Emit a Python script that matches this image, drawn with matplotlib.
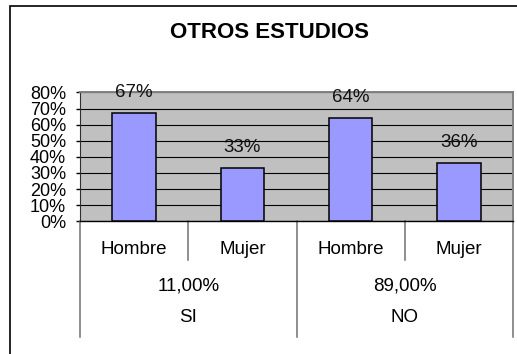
import matplotlib

matplotlib.use("Agg")
import matplotlib.pyplot as plt
from matplotlib.patches import Rectangle
from matplotlib.ticker import FuncFormatter

plt.rcParams["font.family"] = ["Liberation Sans", "DejaVu Sans"]

# Datos: porcentaje por sexo dentro de cada respuesta
sexo = ["Hombre", "Mujer", "Hombre", "Mujer"]
valores = [67, 33, 64, 36]
respuestas = ["SI", "NO"]
totales = ["11,00%", "89,00%"]
yticks = [0, 10, 20, 30, 40, 50, 60, 70, 80]

W, H = 517, 354
fig = plt.figure(figsize=(W / 100, H / 100), dpi=100)

# Marco del grafico (solo bordes izquierdo y superior visibles)
fig.patches.append(Rectangle((10 / W, -0.1), 1.2, 1 - 6 / H + 0.1,
                             transform=fig.transFigure, fill=False,
                             edgecolor="black", linewidth=1.2))

ax_l, ax_r, ax_t, ax_b = 80, 513, 92.5, 221.3
ax = fig.add_axes([ax_l / W, 1 - ax_b / H, (ax_r - ax_l) / W, (ax_b - ax_t) / H])
ax.set_facecolor("#C0C0C0")

x = list(range(len(valores)))
ax.bar(x, valores, width=0.4, color="#9999FF", edgecolor="black",
       linewidth=1.1, zorder=3)

for xi, v in zip(x, valores):
    ax.annotate(f"{v}%", (xi, v), xytext=(0, 15), textcoords="offset points",
                ha="center", va="center", fontsize=13.5, color="#111111")

ax.set_xlim(-0.5, len(valores) - 0.5)
ax.set_ylim(0, 80)
ax.set_yticks(yticks)
ax.yaxis.set_major_formatter(FuncFormatter(lambda v, p: f"{v:.0f}%"))
ax.tick_params(axis="y", direction="out", length=3, width=1, pad=7,
               labelsize=13)
ax.set_xticks([])
ax.yaxis.grid(True, color="black", linewidth=0.8, zorder=1)
ax.set_axisbelow(True)

for side in ["top", "right"]:
    ax.spines[side].set_color("#808080")
    ax.spines[side].set_linewidth(1.4)
ax.spines["left"].set_color("#303030")
ax.spines["bottom"].set_color("black")
ax.spines["bottom"].set_linewidth(1.0)

# Tabla de categorias bajo el eje
h_px = ax_b - ax_t
def yfrac(py):
    return -(py - ax_b) / h_px

trans = ax.get_xaxis_transform()
for xs, largo in [(-0.5, True), (0.5, False), (1.5, True), (2.5, False), (3.5, True)]:
    y_fin = yfrac(337) if largo else yfrac(260)
    ax.plot([xs, xs], [0, y_fin], transform=trans, color="#707070",
            linewidth=1.1, clip_on=False)

for xi, s in zip(x, sexo):
    ax.text(xi, yfrac(250), s, transform=trans, ha="center", va="center",
            fontsize=13.5)

for i, (r, t) in enumerate(zip(respuestas, totales)):
    xc = 2 * i + 0.5
    ax.text(xc, yfrac(286), t, transform=trans, ha="center", va="center",
            fontsize=13.5)
    ax.text(xc, yfrac(317), r, transform=trans, ha="center", va="center",
            fontsize=13.5)

fig.text(269 / W, 1 - 33 / H, "OTROS ESTUDIOS", ha="center", va="center",
         fontsize=16, fontweight="bold")

fig.savefig("out.png", dpi=100)
plt.close(fig)
